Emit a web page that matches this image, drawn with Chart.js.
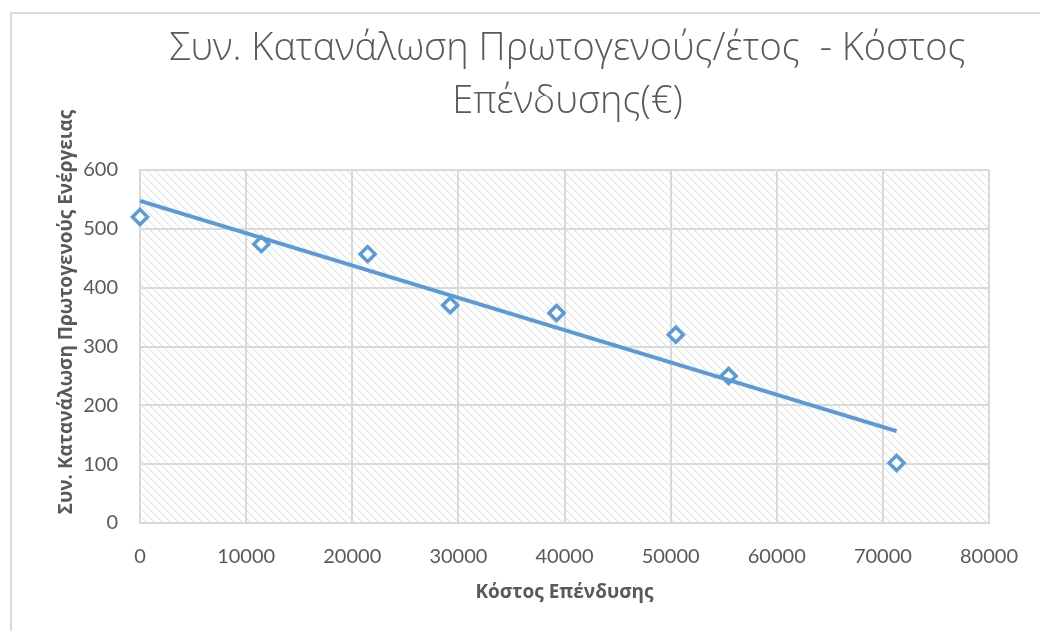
<!DOCTYPE html>
<html>
<head>
<meta charset="utf-8">
<script src="https://cdn.jsdelivr.net/npm/chart.js@4.4.1/dist/chart.umd.min.js"></script>
<style>
  html, body { margin: 0; padding: 0; background: #ffffff; }
  #wrap { width: 1040px; height: 631px; }
</style>
</head>
<body>
<div id="wrap"><canvas id="chart" width="1040" height="631"></canvas></div>
<script>
// Investment cost (€) and cumulative primary energy consumption per year
const costs = [0, 11430, 21450, 29230, 39250, 50490, 55460, 71290];
const consumption = [520, 474, 457, 370, 357, 320, 250, 102];

const xTicks = [0, 10000, 20000, 30000, 40000, 50000, 60000, 70000, 80000];
const yTicks = [0, 100, 200, 300, 400, 500, 600];

const titleLines = ['Συν. Κατανάλωση Πρωτογενούς/έτος  - Κόστος', 'Επένδυσης(€)'];
const xTitle = 'Κόστος Επένδυσης';
const yTitle = 'Συν. Κατανάλωση Πρωτογενούς Ενέργειας';

const BLUE = '#5b9bd5';
const GRID = '#d9d9d9';
const TEXT = '#595959';

// least-squares linear trend over the measured points
function linearTrend(xs, ys) {
  const n = xs.length;
  const mx = xs.reduce((s, v) => s + v, 0) / n;
  const my = ys.reduce((s, v) => s + v, 0) / n;
  let sxy = 0, sxx = 0;
  for (let i = 0; i < n; i++) {
    sxy += (xs[i] - mx) * (ys[i] - my);
    sxx += (xs[i] - mx) * (xs[i] - mx);
  }
  const slope = sxy / sxx;
  const icept = my - slope * mx;
  const x0 = Math.min(...xs), x1 = Math.max(...xs);
  return [{ x: x0, y: icept + slope * x0 }, { x: x1, y: icept + slope * x1 }];
}

// light diagonal hatch used as the plot-area fill
function makeHatch(ctx) {
  const size = 8;
  const c = document.createElement('canvas');
  c.width = size; c.height = size;
  const g = c.getContext('2d');
  const img = g.createImageData(size, size);
  for (let i = 0; i < size * size; i++) {
    img.data[i * 4] = 255; img.data[i * 4 + 1] = 255; img.data[i * 4 + 2] = 255; img.data[i * 4 + 3] = 255;
  }
  for (let y = 0; y < size; y++) {
    const shades = [[y % size, (y % 2) ? 222 : 232], [(y + 1) % size, 243]];
    shades.forEach(([x, v]) => {
      const p = (y * size + x) * 4;
      img.data[p] = v; img.data[p + 1] = v; img.data[p + 2] = v;
    });
  }
  g.putImageData(img, 0, 0);
  return ctx.createPattern(c, 'repeat');
}

const decor = {
  id: 'decor',
  beforeDraw(chart) {
    const { ctx, chartArea: a, width, height } = chart;
    ctx.save();
    ctx.fillStyle = '#ffffff';
    ctx.fillRect(0, 0, width, height);
    ctx.fillStyle = makeHatch(ctx);
    ctx.fillRect(a.left, a.top, a.right - a.left, a.bottom - a.top);
    // outer frame
    ctx.strokeStyle = GRID;
    ctx.lineWidth = 2;
    ctx.beginPath();
    ctx.moveTo(11, height + 2);
    ctx.lineTo(11, 13);
    ctx.lineTo(width + 2, 13);
    ctx.stroke();
    ctx.restore();
  },
  afterDraw(chart) {
    const { ctx, chartArea: a } = chart;
    const cx = (a.left + a.right) / 2;
    ctx.save();
    ctx.fillStyle = TEXT;
    ctx.textAlign = 'center';
    ctx.textBaseline = 'alphabetic';
    // chart title, condensed to the width of a narrow title face
    ctx.font = '300 38px "Open Sans"';
    const targetW = 796;
    const w0 = ctx.measureText(titleLines[0]).width;
    const sx = Math.min(1, targetW / w0);
    [60, 113].forEach((base, i) => {
      ctx.save();
      ctx.translate(cx + 3, base);
      ctx.scale(sx, 1);
      ctx.fillText(titleLines[i], 0, 0);
      ctx.restore();
    });
    // axis titles
    ctx.font = 'bold 19px "Open Sans"';
    ctx.textBaseline = 'middle';
    ctx.fillText(xTitle, cx, 593);
    ctx.save();
    ctx.translate(67, 312);
    ctx.rotate(-Math.PI / 2);
    ctx.fillText(yTitle, 0, 0);
    ctx.restore();
    ctx.restore();
  }
};

new Chart(document.getElementById('chart'), {
  type: 'scatter',
  data: {
    datasets: [
      {
        label: 'Γραμμική τάση',
        type: 'line',
        data: linearTrend(costs, consumption),
        borderColor: BLUE,
        borderWidth: 4,
        pointRadius: 0,
        fill: false,
        clip: false,
        order: 0
      },
      {
        label: 'Συν. Κατανάλωση Πρωτογενούς',
        data: costs.map((x, i) => ({ x, y: consumption[i] })),
        pointStyle: 'rectRot',
        pointRadius: 7.5,
        borderWidth: 3.5,
        pointBorderWidth: 3.5,
        backgroundColor: '#ffffff',
        borderColor: BLUE,
        pointBackgroundColor: '#ffffff',
        pointBorderColor: BLUE,
        showLine: false,
        clip: false,
        order: 1
      }
    ]
  },
  options: {
    responsive: false,
    animation: false,
    devicePixelRatio: 1,
    layout: { padding: { left: 0, top: 170, right: 46, bottom: 0 } },
    plugins: {
      legend: { display: false },
      tooltip: { enabled: false },
      title: { display: false }
    },
    scales: {
      x: {
        type: 'linear',
        min: xTicks[0],
        max: xTicks[xTicks.length - 1],
        afterBuildTicks: s => { s.ticks = xTicks.map(v => ({ value: v })); },
        afterFit: s => { s.height = 108; },
        grid: { color: GRID, lineWidth: 2, drawTicks: false },
        border: { color: GRID, width: 2 },
        ticks: {
          padding: 22,
          color: TEXT,
          font: { family: 'Lato', size: 20 },
          maxRotation: 0,
          callback: v => String(v)
        }
      },
      y: {
        type: 'linear',
        min: yTicks[0],
        max: yTicks[yTicks.length - 1],
        afterBuildTicks: s => { s.ticks = yTicks.map(v => ({ value: v })); },
        afterFit: s => { s.width = 140; },
        grid: { color: GRID, lineWidth: 2, drawTicks: false },
        border: { color: GRID, width: 2 },
        ticks: {
          padding: 22,
          color: TEXT,
          font: { family: 'Lato', size: 20 },
          callback: v => String(v)
        }
      }
    }
  },
  plugins: [decor]
});
</script>
</body>
</html>
